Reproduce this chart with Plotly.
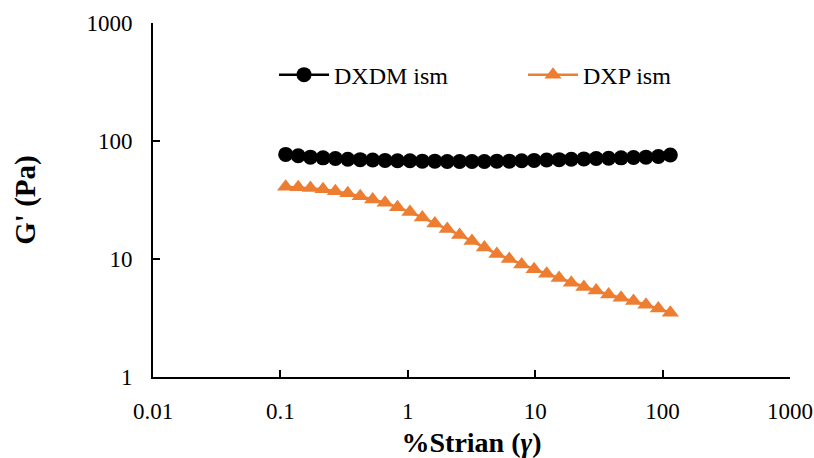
import plotly.graph_objects as go

strain = [0.110, 0.138, 0.172, 0.216, 0.270, 0.338, 0.423, 0.530, 0.663, 0.830,
          1.04, 1.30, 1.63, 2.04, 2.55, 3.19, 3.99, 5.00, 6.26, 7.83,
          9.80, 12.3, 15.4, 19.2, 24.1, 30.1, 37.7, 47.2, 59.1, 74.0, 92.6, 115]

dxdm = [77, 75, 73, 72, 71, 70, 69.5, 69, 68.5, 68, 68, 67.5, 67.5, 67, 67, 67,
        67, 67.5, 67.5, 68, 68.5, 69, 69.5, 70, 70.5, 71, 71.5, 72, 72.5, 73, 74, 76]

dxp = [41, 40.5, 40, 39, 37.5, 36, 34, 32, 30, 27.5, 25, 22.5, 20, 18, 16, 14.2,
       12.5, 11, 10, 9, 8.2, 7.5, 6.9, 6.3, 5.8, 5.4, 5.0, 4.7, 4.4, 4.1, 3.8, 3.5]

xticks = [0.01, 0.1, 1, 10, 100, 1000]
yticks = [1, 10, 100, 1000]

FONT = "Liberation Serif"

fig = go.Figure()
fig.add_trace(go.Scatter(x=strain, y=dxdm, name="DXDM ism", mode="lines+markers",
                         line=dict(color="black", width=2.5),
                         marker=dict(symbol="circle", size=15, color="black")))
fig.add_trace(go.Scatter(x=strain, y=dxp, name="DXP ism", mode="lines+markers",
                         line=dict(color="#ED7D31", width=2.5),
                         marker=dict(symbol="triangle-up", size=15, color="#ED7D31")))

fig.update_layout(
    width=814, height=458,
    margin=dict(l=153, r=24, t=23, b=81, autoexpand=False),
    plot_bgcolor="white", paper_bgcolor="white",
    font=dict(family=FONT, size=23, color="black"),
    legend=dict(orientation="h", x=0.19, xanchor="left", y=0.853, yanchor="middle",
                entrywidth=184, entrywidthmode="pixels", itemwidth=50,
                font=dict(family=FONT, size=24, color="black"),
                bgcolor="rgba(0,0,0,0)"),
    xaxis=dict(type="log", range=[-2, 3], tickvals=xticks,
               ticktext=[str(v) for v in xticks], automargin=False,
               showline=True, linecolor="black", linewidth=2,
               ticks="inside", ticklen=7, tickwidth=2, tickcolor="black",
               showgrid=False, zeroline=False, ticklabelstandoff=12,
               title=dict(text="<b>%Strian (<i>γ</i>)</b>", font=dict(family=FONT, size=28),
                          standoff=12)),
    yaxis=dict(type="log", range=[0, 3], tickvals=yticks,
               ticktext=[str(v) for v in yticks], automargin=False,
               showline=True, linecolor="black", linewidth=2,
               ticks="inside", ticklen=7, tickwidth=2, tickcolor="black",
               showgrid=False, zeroline=False, ticklabelstandoff=14,
               title=dict(text="<b>G' (Pa)</b>", font=dict(family=FONT, size=29),
                          standoff=42)),
)

fig.write_html("out.html")
